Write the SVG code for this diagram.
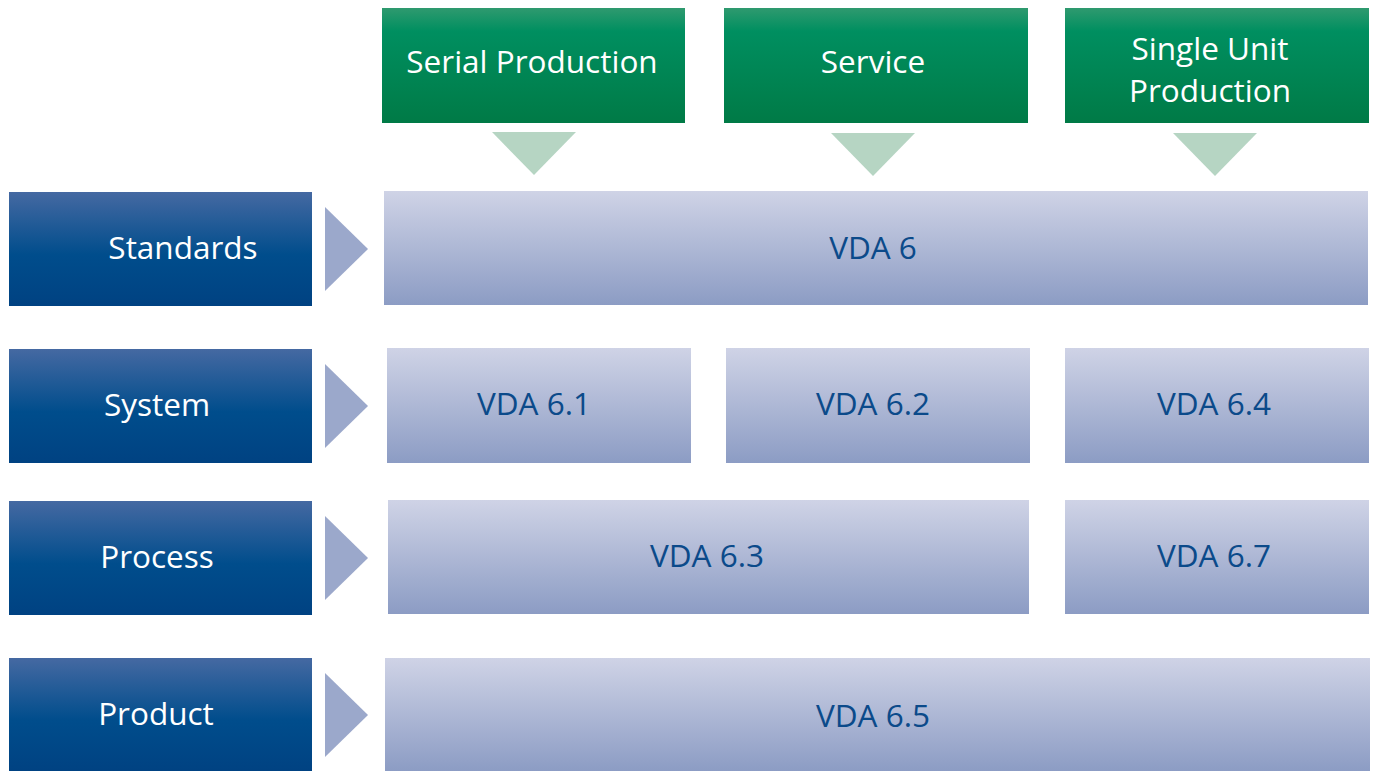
<svg xmlns="http://www.w3.org/2000/svg" width="1378" height="771" viewBox="0 0 1378 771">
<defs>
<linearGradient id="gGreen" x1="0" y1="0" x2="0" y2="1">
<stop offset="0" stop-color="#2f9a6f"/>
<stop offset="0.2" stop-color="#008f60"/>
<stop offset="1" stop-color="#007a46"/>
</linearGradient>
<linearGradient id="gBlue" x1="0" y1="0" x2="0" y2="1">
<stop offset="0" stop-color="#4569a2"/>
<stop offset="0.55" stop-color="#004d8c"/>
<stop offset="1" stop-color="#004282"/>
</linearGradient>
<linearGradient id="gLight" x1="0" y1="0" x2="0" y2="1">
<stop offset="0" stop-color="#cfd3e6"/>
<stop offset="1" stop-color="#8c9cc4"/>
</linearGradient>
<style>
.green{fill:url(#gGreen)}
.blue{fill:url(#gBlue)}
.light{fill:url(#gLight)}
.wt{font-family:"Open Sans","Noto Sans",sans-serif;font-size:31.5px;fill:#ffffff;text-anchor:middle}
.bt{font-family:"Open Sans","Noto Sans",sans-serif;font-size:31.5px;fill:#0b4a8a;text-anchor:middle}
.tdown{fill:#b6d5c3}
.tright{fill:#9ba8cb}
</style>
</defs>
<rect width="1378" height="771" fill="#ffffff"/>
<g id="serial-production"><rect class="green" x="382" y="8" width="303" height="115"/><text class="wt" x="532" y="73">Serial Production</text></g>
<g id="service"><rect class="green" x="724" y="8" width="304" height="115"/><text class="wt" x="873" y="73">Service</text></g>
<g id="single-unit-production"><rect class="green" x="1065" y="8" width="304" height="115"/><text class="wt" x="1210" y="60">Single Unit</text><text class="wt" x="1210" y="102">Production</text></g>
<g id="standards"><rect class="blue" x="9" y="192" width="303" height="114"/><text class="wt" x="183" y="259">Standards</text></g>
<g id="system"><rect class="blue" x="9" y="349" width="303" height="114"/><text class="wt" x="157" y="416">System</text></g>
<g id="process"><rect class="blue" x="9" y="501" width="303" height="114"/><text class="wt" x="157" y="568">Process</text></g>
<g id="product"><rect class="blue" x="9" y="658" width="303" height="113"/><text class="wt" x="156" y="725">Product</text></g>
<g id="vda6"><rect class="light" x="384" y="191" width="984" height="114"/><text class="bt" x="873" y="259">VDA 6</text></g>
<g id="vda61"><rect class="light" x="387" y="348" width="304" height="115"/><text class="bt" x="534" y="415">VDA 6.1</text></g>
<g id="vda62"><rect class="light" x="726" y="348" width="304" height="115"/><text class="bt" x="873" y="415">VDA 6.2</text></g>
<g id="vda64"><rect class="light" x="1065" y="348" width="304" height="115"/><text class="bt" x="1214" y="415">VDA 6.4</text></g>
<g id="vda63"><rect class="light" x="388" y="500" width="641" height="114"/><text class="bt" x="707" y="567">VDA 6.3</text></g>
<g id="vda67"><rect class="light" x="1065" y="500" width="304" height="114"/><text class="bt" x="1214" y="567">VDA 6.7</text></g>
<g id="vda65"><rect class="light" x="385" y="658" width="985" height="113"/><text class="bt" x="873" y="727">VDA 6.5</text></g>
<g id="connectors">
<polygon class="tdown" points="492,132 576,132 534,175"/>
<polygon class="tdown" points="831,133 915,133 873,176"/>
<polygon class="tdown" points="1173,133 1257,133 1215,176"/>
<polygon class="tright" points="325,207 368,249 325,291"/>
<polygon class="tright" points="325,364 368,406 325,448"/>
<polygon class="tright" points="325,516 368,558 325,600"/>
<polygon class="tright" points="325,673 368,715 325,757"/>
</g>
</svg>
